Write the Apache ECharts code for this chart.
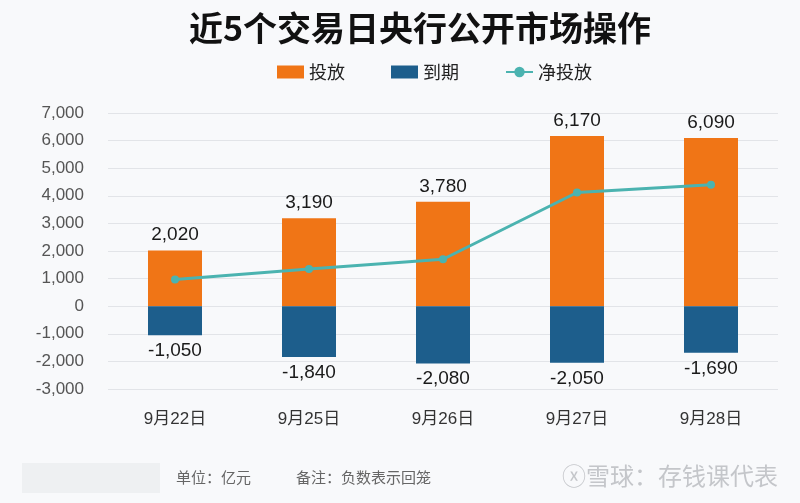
<!DOCTYPE html>
<html><head><meta charset="utf-8">
<script src="https://cdn.jsdelivr.net/npm/echarts@6/dist/echarts.min.js"></script>
<style>html,body{margin:0;padding:0;background:#f8f9fb;}#c{width:800px;height:503px;}</style>
</head><body><div id="c"></div>
<script>
const categories = ['9月22日','9月25日','9月26日','9月27日','9月28日'];
const injection = [2020, 3190, 3780, 6170, 6090];
const maturity = [-1050, -1840, -2080, -2050, -1690];
const net = [970, 1350, 1700, 4120, 4400];
const yTicks = {min: -3000, max: 7000, interval: 1000};

const font = '"Liberation Sans", "Noto Sans CJK SC", sans-serif';
const chart = echarts.init(document.getElementById('c'));
chart.setOption({
  backgroundColor: '#f8f9fb',
  animation: false,
  title: {
    text: '近5个交易日央行公开市场操作', left: 184, top: 6,
    textStyle: {fontFamily: '"Noto Sans CJK SC", sans-serif', fontSize: 34, fontWeight: 'bold', color: '#111'}
  },
  legend: {
    top: 58, left: 272, itemGap: 46, itemWidth: 27, itemHeight: 13,
    textStyle: {fontFamily: '"Noto Sans CJK SC", sans-serif', fontSize: 18, color: '#222'},
    data: [{name: '投放', icon: 'rect'}, {name: '到期', icon: 'rect'}, {name: '净投放'}]
  },
  grid: {left: 108, right: 22, top: 113, bottom: 114},
  xAxis: {
    type: 'category', data: categories,
    axisLine: {show: false}, axisTick: {show: false},
    axisLabel: {margin: 0, padding: [20,0,0,0], fontFamily: font, fontSize: 17, color: '#333', lineHeight: 20, verticalAlign: 'top'},
    position: 'bottom'
  },
  yAxis: {
    type: 'value', min: yTicks.min, max: yTicks.max, interval: yTicks.interval,
    axisLine: {show: false}, axisTick: {show: false},
    axisLabel: {margin: 24, fontFamily: font, fontSize: 17, color: '#555',
      formatter: v => v.toLocaleString('en-US')},
    splitLine: {lineStyle: {color: '#e2e4e8', width: 1}}
  },
  series: [
    {name: '投放', type: 'bar', data: injection, barWidth: 54, barGap: '-100%',
     itemStyle: {color: '#f07516'},
     label: {show: true, position: 'top', distance: 6, fontFamily: font, fontSize: 19, color: '#1a1a1a',
       formatter: p => p.value.toLocaleString('en-US')}},
    {name: '到期', type: 'bar', data: maturity, barWidth: 54,
     itemStyle: {color: '#1d5e8c'},
     label: {show: true, position: 'bottom', distance: 6, fontFamily: font, fontSize: 19, color: '#1a1a1a',
       formatter: p => p.value.toLocaleString('en-US')}},
    {name: '净投放', type: 'line', data: net, symbol: 'circle', symbolSize: 8,
     lineStyle: {color: '#4bb3b0', width: 3}, itemStyle: {color: '#4bb3b0'}, z: 5}
  ],
  graphic: [
    {type: 'rect', left: 22, top: 463, shape: {width: 138, height: 30}, style: {fill: '#eef0f2'}},
    {type: 'text', left: 176, top: 470, style: {text: '单位：亿元', font: '15px "Noto Sans CJK SC"', fill: '#666'}},
    {type: 'text', left: 296, top: 470, style: {text: '备注：负数表示回笼', font: '15px "Noto Sans CJK SC"', fill: '#666'}},
    {type: 'text', left: 562, top: 464, style: {text: 'ⓧ雪球：存钱课代表', font: '24px "Noto Sans CJK SC"', fill: '#c4c6ca'}}
  ]
});
</script></body></html>
